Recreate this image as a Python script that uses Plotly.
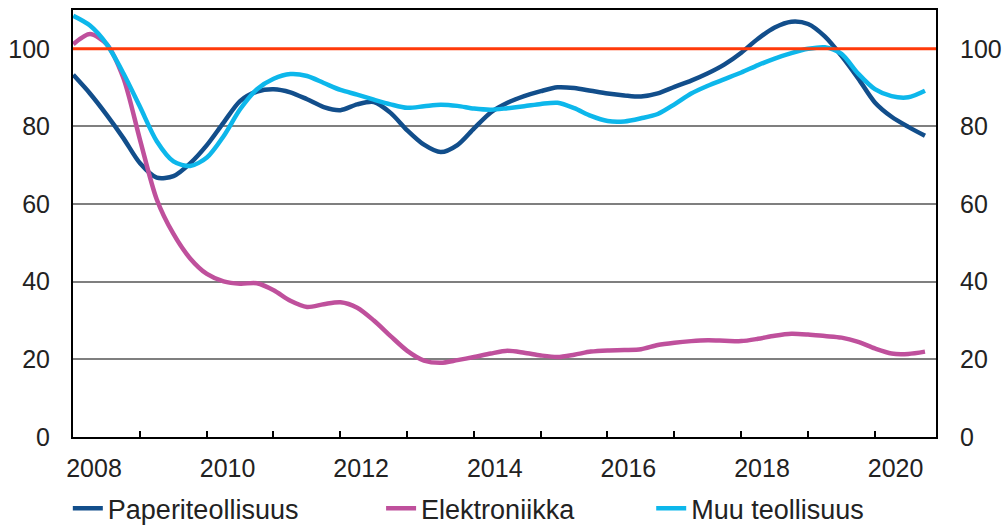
import plotly.graph_objects as go

# Quarterly index series, first observation in autumn 2007
START_YEAR = 2007.69
STEP = 0.25

paperi = [93.3, 88.5, 83.0, 77.0, 70.5, 66.8, 67.2, 70.5, 75.2, 81.0,
          86.6, 89.0, 89.6, 88.8, 87.0, 85.0, 84.2, 85.7, 86.3, 83.5,
          79.0, 75.3, 73.4, 75.2, 79.5, 83.6, 86.1, 87.8, 89.1, 90.1,
          89.9, 89.2, 88.5, 88.0, 87.7, 88.5, 90.2, 91.8, 93.7, 96.0,
          99.0, 102.6, 105.5, 107.0, 106.4, 103.2, 98.2, 92.4, 86.2, 82.5,
          79.9, 77.6]

elektroniikka = [101.2, 103.8, 101.2, 92.5, 76.5, 61.2, 52.3, 46.0, 42.0, 40.1,
                 39.5, 39.6, 37.8, 35.1, 33.5, 34.2, 34.7, 33.3, 30.0, 26.0,
                 22.2, 19.7, 19.1, 19.8, 20.6, 21.5, 22.2, 21.7, 21.0, 20.6,
                 21.2, 22.0, 22.3, 22.4, 22.6, 23.7, 24.3, 24.7, 24.9, 24.8,
                 24.7, 25.3, 26.1, 26.6, 26.4, 26.0, 25.6, 24.5, 22.8, 21.5,
                 21.4, 22.0]

muu = [108.5, 106.0, 101.2, 93.7, 85.0, 76.2, 71.0, 69.8, 72.0, 77.5,
       84.5, 89.6, 92.3, 93.5, 93.0, 91.2, 89.4, 88.2, 86.9, 85.7,
       84.8, 85.2, 85.6, 85.3, 84.6, 84.3, 84.7, 85.2, 85.8, 86.1,
       84.7, 82.7, 81.4, 81.3, 82.1, 83.2, 85.7, 88.5, 90.5, 92.2,
       93.9, 95.8, 97.5, 98.9, 100.0, 100.4, 98.7, 93.6, 89.6, 87.8,
       87.5, 89.2]

series_names = ["Paperiteollisuus", "Elektroniikka", "Muu teollisuus"]
series_colors = ["#124E8B", "#BF509C", "#0DB7EB"]
year_labels = [2008, 2010, 2012, 2014, 2016, 2018, 2020]
y_ticks = [0, 20, 40, 60, 80, 100]
REF_LEVEL = 100

x_range = [2007.686, 2020.605]
y_range = [0, 110]
quarters = [START_YEAR + STEP * i for i in range(len(paperi))]

FONT = "Liberation Sans, Arial, sans-serif"

fig = go.Figure()
legends = ["legend", "legend2", "legend3"]
for name, vals, color, lg in zip(series_names, [paperi, elektroniikka, muu],
                                  series_colors, legends):
    fig.add_trace(go.Scatter(
        x=quarters, y=vals, name=name, mode="lines",
        line=dict(color=color, width=4.5, shape="spline", smoothing=0.8),
        legend=lg,
    ))

# invisible companion trace so the right-hand value axis is rendered
fig.add_trace(go.Scatter(x=quarters, y=muu, yaxis="y2", xaxis="x2",
                         mode="lines", line=dict(width=0), opacity=0,
                         showlegend=False, hoverinfo="skip"))

fig.add_shape(type="line", xref="paper", x0=0, x1=1, yref="y",
              y0=REF_LEVEL, y1=REF_LEVEL, line=dict(color="#FF3A0A", width=3),
              layer="above")

tick_font = dict(family=FONT, size=25, color="#222222")

fig.update_layout(
    width=1004, height=528,
    margin=dict(l=73, r=68, t=10, b=91, autoexpand=False),
    paper_bgcolor="white", plot_bgcolor="white",
    showlegend=True,
    xaxis=dict(range=x_range, tick0=x_range[0], dtick=1, ticks="inside",
               ticklen=6, tickwidth=1.5, tickcolor="black",
               showticklabels=False, showgrid=False, zeroline=False,
               showline=True, linecolor="black", linewidth=2, mirror=True),
    xaxis2=dict(range=x_range, overlaying="x", anchor="y", side="bottom",
                tickvals=year_labels, ticktext=[str(v) for v in year_labels],
                ticks="outside", ticklen=9, tickcolor="rgba(0,0,0,0)",
                tickfont=tick_font, showgrid=False, zeroline=False,
                showline=False),
    yaxis=dict(range=y_range, tickvals=y_ticks, tickfont=tick_font,
               ticks="outside", ticklen=16, tickcolor="rgba(0,0,0,0)",
               showgrid=True, gridcolor="#7F7F7F", gridwidth=1.5,
               zeroline=False, showline=True, linecolor="black",
               linewidth=2, mirror=True),
    yaxis2=dict(range=y_range, tickvals=y_ticks, tickfont=tick_font,
                overlaying="y", side="right", anchor="x",
                ticks="outside", ticklen=18, tickcolor="rgba(0,0,0,0)",
                showgrid=False, zeroline=False, showline=False),
)

leg_common = dict(orientation="h", yanchor="middle", xanchor="left",
                  y=-0.168, bgcolor="rgba(0,0,0,0)",
                  font=dict(family=FONT, size=27, color="#222222"))
fig.update_layout(
    legend=dict(x=-0.006, **leg_common),
    legend2=dict(x=0.357, **leg_common),
    legend3=dict(x=0.670, **leg_common),
)

fig.write_html("out.html")
